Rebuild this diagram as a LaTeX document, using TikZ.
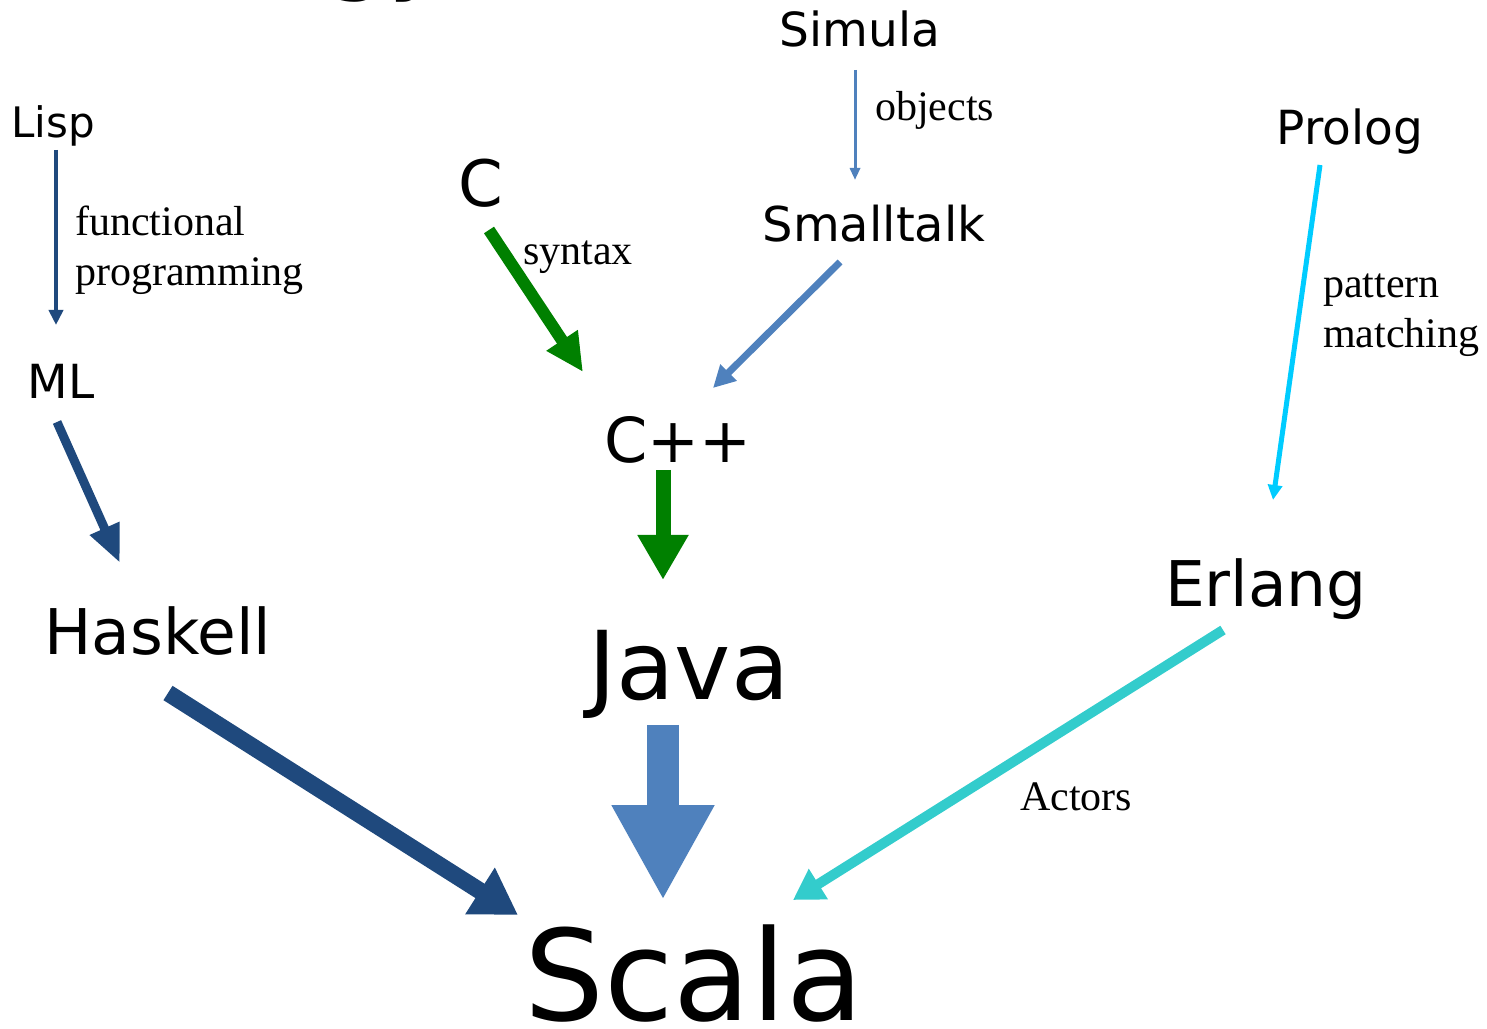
\documentclass[tikz,border=0pt]{standalone}
\usepackage{fontspec}
\usepackage{tikz}
\usetikzlibrary{arrows.meta, positioning}
\newfontfamily\langfont{DejaVu Sans}
\newfontfamily\notefont{Liberation Serif}
\newcommand{\fsz}[1]{\fontsize{#1}{#1}\selectfont}
\definecolor{navy}{HTML}{1F497D}
\definecolor{steel}{HTML}{4F81BD}
\definecolor{leaf}{HTML}{008000}
\definecolor{sky}{HTML}{00CCFF}
\definecolor{teal}{HTML}{33CCCC}
\tikzset{
  lang/.style={anchor=base, inner sep=0pt, font=\langfont\fsz{#1}},
  note/.style={inner sep=0pt, align=left, font=\notefont\fontsize{42}{50}\selectfont},
  flow/.style args={#1/#2/#3/#4}{draw=#1, line width=#2pt, -{Triangle[length=#3pt, width=#4pt]}}
}

\begin{document}
\begin{tikzpicture}[x=1pt, y=1pt]
\useasboundingbox (0,0) rectangle (1487,1028);
\node[lang=100, anchor=base west] (title) at (325,1046) {gy};
\node[lang=47] (simula) at (860,981) {Simula};
\node[lang=42] (lisp) at (53,890) {Lisp};
\node[lang=47] (ml) at (61,629) {ML};
\node[lang=64] (c) at (481,821) {C};
\node[lang=48] (smalltalk) at (874,786) {Smalltalk};
\node[lang=47] (prolog) at (1350,883) {Prolog};
\node[lang=62] (cpp) at (678,565) {C++};
\node[lang=63] (erlang) at (1266,421) {Erlang};
\node[lang=63] (haskell) at (158,373) {Haskell};
\node[lang=95] (java) at (689,328) {Java};
\node[lang=126] (scala) at (694,8) {Scala};

\node[note, anchor=north west] (funcnote) at (75,822) {functional\\programming};
\node[note, anchor=base west] (objnote) at (875,907) {objects};
\node[note, anchor=base west] (synnote) at (523,763) {syntax};
\node[note, anchor=north west] (patnote) at (1323,754) {pattern\\matching};
\node[note, anchor=base west] (actnote) at (1020,218) {Actors};

% functional side
\draw[flow=navy/4/15/14] ([shift={(3pt,-12pt)}]lisp.base) -- ([shift={(-5pt,74pt)}]ml.base);
\draw[flow=navy/9/38/30] ([shift={(-4pt,-23pt)}]ml.base) -- ([shift={(-38pt,92pt)}]haskell.base);
\draw[flow=navy/17/45/52] ([shift={(10pt,-38pt)}]haskell.base) -- ([shift={(-176pt,105pt)}]scala.base);

% object side
\draw[flow=leaf/12/38/35] ([shift={(8pt,-23pt)}]c.base) -- ([shift={(-95pt,91pt)}]cpp.base);
\draw[flow=steel/3/12/10] ([shift={(-5pt,-23pt)}]simula.base) -- ([shift={(-19pt,62pt)}]smalltalk.base);
\draw[flow=steel/7/22/22] ([shift={(-34pt,-20pt)}]smalltalk.base) -- ([shift={(35pt,75pt)}]cpp.base);
\draw[flow=leaf/15/45/48] ([shift={(-15pt,-7pt)}]cpp.base) -- ([shift={(-26pt,120pt)}]java.base);
\draw[flow=steel/32/95/96] ([shift={(-26pt,-25pt)}]java.base) -- ([shift={(-31pt,120pt)}]scala.base);

% logic side
\draw[flow=sky/5/15/14] ([shift={(-30pt,-20pt)}]prolog.base) -- ([shift={(7pt,107pt)}]erlang.base);
\draw[flow=teal/10/30/34] ([shift={(-43pt,-23pt)}]erlang.base) -- ([shift={(99pt,120pt)}]scala.base);
\end{tikzpicture}
\end{document}
